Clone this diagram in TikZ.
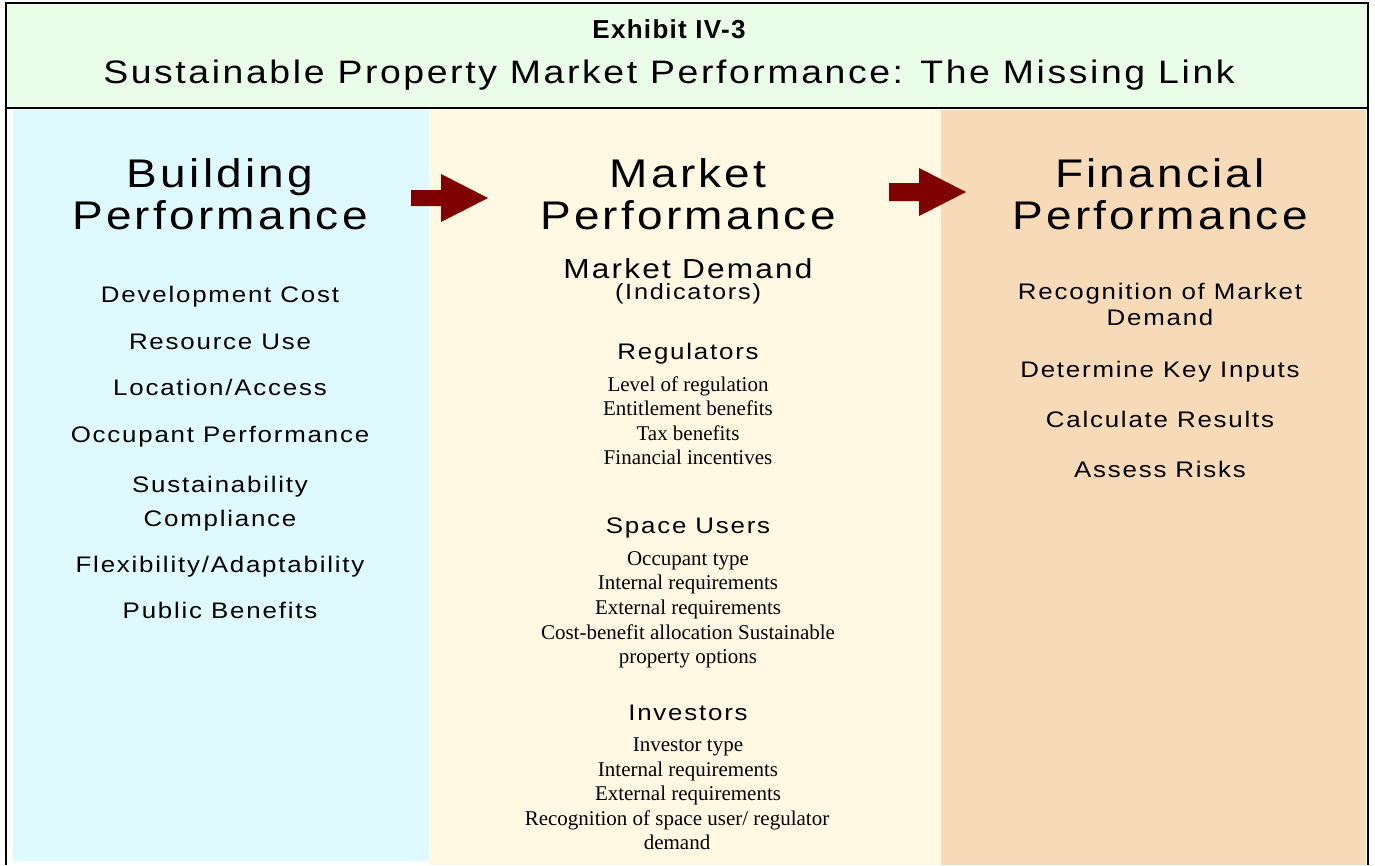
\documentclass[tikz,border=0pt]{standalone}
\usepackage{fontspec}
\newfontfamily\spacedsans[LetterSpace=8, FakeStretch=1.15]{Liberation Sans}
\newfontfamily\plainsans[LetterSpace=5]{Liberation Sans}
\newfontfamily\timesfam{Liberation Serif}
\definecolor{titlebg}{HTML}{E9FDE9}
\definecolor{bluebg}{HTML}{DFFAFF}
\definecolor{creambg}{HTML}{FFF9E3}
\definecolor{tanbg}{HTML}{F7DAB7}
\definecolor{arrowred}{HTML}{7F0000}
\tikzset{
  txt/.style={anchor=base, inner sep=0pt, text=black},
  heading/.style={txt, font=\spacedsans\fontsize{40}{44}\selectfont},
  item/.style={txt, font=\spacedsans\fontsize{22.5}{26}\selectfont},
  subhead/.style={txt, font=\spacedsans\fontsize{22.5}{26}\selectfont},
  serifline/.style={txt, font=\timesfam\fontsize{21}{24}\selectfont},
  frame/.style={draw=black, line width=2pt},
  bigarrow/.style={fill=arrowred, draw=none}
}
\begin{document}
\begin{tikzpicture}[x=1pt, y=-1pt]
\useasboundingbox (0,0) rectangle (1375,865);
% columns
\fill[bluebg] (13,110) rectangle (429,861);
\fill[creambg] (429,110) rectangle (941,865);
\fill[tanbg] (941,110) rectangle (1366,865);
% frame
\draw[frame, fill=titlebg] (6,3) rectangle (1368,108);
\draw[frame] (6,108) -- (6,865);
\draw[frame] (1368,108) -- (1368,865);
% title
\node[txt, font=\plainsans\bfseries\fontsize{26}{30}\selectfont] (exh) at (669,38) {Exhibit IV-3};
\node[txt, font=\spacedsans\fontsize{32.5}{36}\selectfont] (ttl) at (669,83) {Sustainable Property Market Performance: The Missing Link};
% headings
\node[heading] (bp1) at (220,187) {Building};
\node[heading] (bp2) at (220,229) {Performance};
\node[heading] (mp1) at (688,187) {Market};
\node[heading] (mp2) at (688,229) {Performance};
\node[heading] (fp1) at (1160,187) {Financial};
\node[heading] (fp2) at (1160,229) {Performance};
% arrows
\coordinate (a1s) at (411,198);
\coordinate (a2s) at (889,192);
\fill[bigarrow] (a1s) ++(0,-8) -- ++(30,0) -- ++(0,-16) -- (488,198) -- (441,222) -- (441,206) -- (411,206) -- cycle;
\fill[bigarrow] (a2s) ++(0,-9) -- ++(30,0) -- ++(0,-15) -- (966,192) -- (919,216) -- (919,201) -- (889,201) -- cycle;
% left column
\node[item] (l1) at (220,302) {Development Cost};
\node[item] (l2) at (220,349) {Resource Use};
\node[item] (l3) at (220,395) {Location/Access};
\node[item] (l4) at (220,442) {Occupant Performance};
\node[item] (l5) at (220,492) {Sustainability};
\node[item] (l6) at (220,526) {Compliance};
\node[item] (l7) at (220,572) {Flexibility/Adaptability};
\node[item] (l8) at (220,618) {Public Benefits};
% middle column
\node[txt, font=\spacedsans\fontsize{27.5}{31}\selectfont] (md) at (688,278) {Market Demand};
\node[txt, font=\spacedsans\fontsize{22}{26}\selectfont] (mdi) at (688,299) {(Indicators)};
\node[subhead] (reg) at (688,359) {Regulators};
\node[serifline] (r1) at (688,391) {Level of regulation};
\node[serifline] (r2) at (688,415) {Entitlement benefits};
\node[serifline] (r3) at (688,440) {Tax benefits};
\node[serifline] (r4) at (688,464) {Financial incentives};
\node[subhead] (su) at (688,533) {Space Users};
\node[serifline] (s1) at (688,565) {Occupant type};
\node[serifline] (s2) at (688,589) {Internal requirements};
\node[serifline] (s3) at (688,614) {External requirements};
\node[serifline] (s4) at (688,639) {Cost-benefit allocation Sustainable};
\node[serifline] (s5) at (688,663) {property options};
\node[subhead] (inv) at (688,720) {Investors};
\node[serifline] (i1) at (688,751) {Investor type};
\node[serifline] (i2) at (688,776) {Internal requirements};
\node[serifline] (i3) at (688,800) {External requirements};
\node[serifline] (i4) at (677,825) {Recognition of space user/ regulator};
\node[serifline] (i5) at (677,849) {demand};
% right column
\node[item] (f1) at (1160,299) {Recognition of Market};
\node[item] (f2) at (1160,325) {Demand};
\node[item] (f3) at (1160,377) {Determine Key Inputs};
\node[item] (f4) at (1160,427) {Calculate Results};
\node[item] (f5) at (1160,477) {Assess Risks};
\end{tikzpicture}
\end{document}
